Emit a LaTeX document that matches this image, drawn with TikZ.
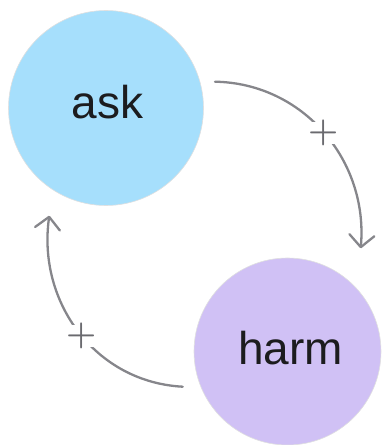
\documentclass[tikz,border=0pt]{standalone}
\usepackage{fontspec}
\newfontfamily\labelfont{Liberation Sans}
\usepackage{xcolor}
\usepackage{tikz}
\usetikzlibrary{positioning, arrows.meta}
\definecolor{askblue}{HTML}{A6DFFC}
\definecolor{harmlilac}{HTML}{D0C1F5}
\definecolor{linkgray}{HTML}{86868B}
\definecolor{signgray}{HTML}{6A6A6F}
\definecolor{wordblack}{HTML}{1C1C1E}

\begin{document}
\begin{tikzpicture}[x=1pt, y=1pt,
	var/.style={circle, draw=black!12, line width=0.6pt, minimum size=195pt, inner sep=0pt, outer sep=0pt},
	word/.style={font=\labelfont\fontsize{46}{46}\selectfont, text=wordblack, anchor=base, inner sep=0pt},
	link/.style={draw=linkgray, line width=2.3pt, line cap=round, -{Straight Barb[length=12pt, width=25pt, round]}},
	sign/.style={fill=white, text=signgray, inner sep=-2pt, font=\bfseries\fontsize{34.5}{34.5}\selectfont}]
			\useasboundingbox (0,0) rectangle (384,445);
			
			\node[var, fill=askblue] (ask) at (106,337) {};
			\node[var, fill=harmlilac, minimum size=187pt, on grid, below right=243.5pt and 181.5pt of ask] (harm) {};
			
			\node[word] (askword) at ([shift={(1.5pt,-11pt)}]ask.center) {ask};
			\node[word] (harmword) at ([shift={(3pt,-13.5pt)}]harm.center) {harm};
			
			%%			free ends of the two links, kept clear of the circles
			\coordinate[above right=26.3pt and 109pt of ask.center] (askout);
			\coordinate[above right=103.2pt and 73.2pt of harm.center] (harmin);
			\coordinate[below left=35.2pt and 104.8pt of harm.center] (harmout);
			\coordinate[below left=107.7pt and 56.7pt of ask.center] (askin);
			
			\draw[link] (askout) to[out=-1, in=85, looseness=1.02] node[sign, pos=0.5] (plusa) {+} (harmin);
			\draw[link] (harmout) to[out=177, in=262, looseness=1.03] node[sign, pos=0.48] (plusb) {+} (askin);
			
\end{tikzpicture}
\end{document}
